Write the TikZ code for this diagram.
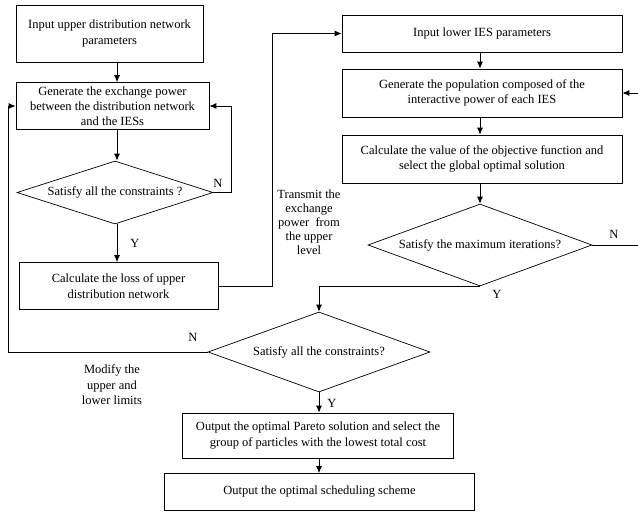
\documentclass[tikz,border=0pt]{standalone}
\usepackage{fontspec}
\setmainfont{Liberation Serif}
\usetikzlibrary{shapes.geometric,arrows.meta}
\begin{document}
\begin{tikzpicture}[x=1pt,y=-1pt,
  font=\fontsize{12.5}{15.5}\selectfont,
  box/.style={draw,line width=0.7pt,align=center,inner sep=1pt},
  dia/.style={draw,diamond,line width=0.7pt,inner sep=0pt,align=center},
  arr/.style={line width=0.8pt,-{Latex[length=7pt,width=6pt]}},
  plain/.style={line width=0.8pt},
  lbl/.style={inner sep=0pt,align=center}]
\useasboundingbox (0,0) rectangle (638,514);
% left column
\node[box,minimum width=187pt,minimum height=57pt] (b1) at (109.5,33.5) {Input upper distribution network\\parameters};
\node[box,minimum width=193pt,minimum height=47pt,font=\fontsize{12.5}{15}\selectfont] (b2) at (112.5,106) {Generate the exchange power\\between the distribution network\\and the IESs};
\node[dia,minimum width=196pt,minimum height=63pt,aspect=3.1] (d1) at (115,192.5) {Satisfy all the constraints ?};
\node[box,minimum width=199pt,minimum height=47pt] (b3) at (118.5,286) {Calculate the loss of upper\\distribution network};
% right column
\node[box,minimum width=280pt,minimum height=37pt] (b4) at (482,33.5) {Input lower IES parameters};
\node[box,minimum width=280pt,minimum height=48pt] (b5) at (482,93) {Generate the population composed of the\\interactive power of each IES};
\node[box,minimum width=280pt,minimum height=48pt] (b6) at (482,159) {Calculate the value of the objective function and\\select the global optimal solution};
\node[dia,minimum width=224pt,minimum height=82pt,aspect=2.73] (d2) at (480,245) {Satisfy the maximum iterations?};
% bottom
\node[dia,minimum width=222pt,minimum height=80pt,aspect=2.78] (d3) at (319,352) {Satisfy all the constraints?};
\node[box,minimum width=271pt,minimum height=45pt] (b7) at (318,435.5) {Output the optimal Pareto solution and select the\\group of particles with the lowest total cost};
\node[box,minimum width=310pt,minimum height=37pt] (b8) at (319.5,492) {Output the optimal scheduling scheme};
% labels
\node[lbl] (ln1) at (218,183) {N};
\node[lbl] (ly1) at (135,243) {Y};
\node[lbl] (ln2) at (614,234) {N};
\node[lbl] (ly2) at (497,294) {Y};
\node[lbl] (ln3) at (193,337) {N};
\node[lbl] (ly3) at (332,403) {Y};
\node[lbl,font=\fontsize{12.5}{14}\selectfont] (tr) at (309,222) {Transmit the\\exchange\\power\ \ from\\the upper\\level};
\node[lbl] (mod) at (112,385) {Modify the\\upper and\\lower limits};
% helper coordinates
\coordinate (cx) at (117,0);
\coordinate (rx) at (480,0);
\coordinate (nx) at (231,0);
\coordinate (tx) at (272,0);
\coordinate (lx) at (8,0);
\coordinate (inR) at (638,93);
\coordinate (outR) at (638,245);
% connectors
\draw[arr] (b1.south -| cx) -- (b2.north -| cx);
\draw[arr] (b2.south -| cx) -- (d1.north -| cx);
\draw[arr] (d1.south -| cx) -- (b3.north -| cx);
\draw[arr] (d1.east) -| (b2.east -| nx) -- (b2.east);
\draw[arr] (b3.east) -| (b4.west -| tx) -- (b4.west);
\draw[arr] (b4.south -| rx) -- (b5.north -| rx);
\draw[arr] (b5.south -| rx) -- (b6.north -| rx);
\draw[arr] (b6.south -| rx) -- (d2.north -| rx);
\draw[arr] (inR) -- (b5.east);
\draw[plain] (d2.east) -- (outR);
\draw[arr] (d2.south) -| (d3.north);
\draw[arr] (d3.west) -| (b2.west -| lx) -- (b2.west);
\draw[arr] (d3.south) -- (b7.north -| d3.south);
\draw[arr] (b7.south -| d3.south) -- (b8.north -| d3.south);
\end{tikzpicture}
\end{document}
